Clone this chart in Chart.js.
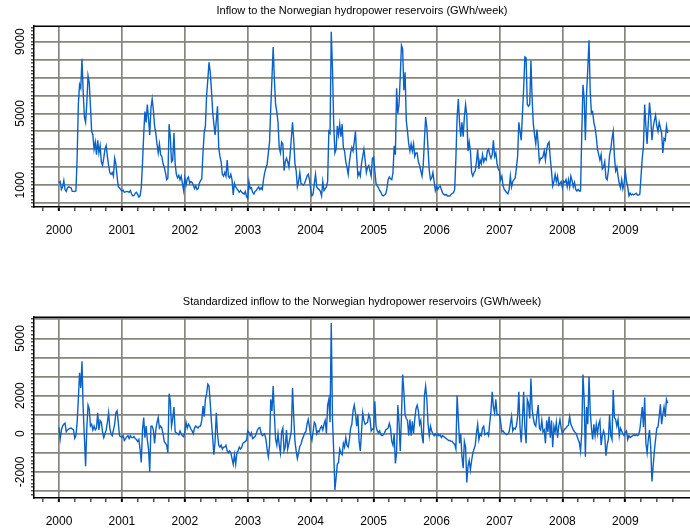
<!DOCTYPE html>
<html>
<head>
<meta charset="utf-8">
<script src="https://cdn.jsdelivr.net/npm/chart.js@4.4.0/dist/chart.umd.min.js"></script>
<style>
  html, body { margin: 0; padding: 0; background: #fff; overflow: hidden; }
  .panel { position: absolute; left: 0; width: 690px; height: 241px; }
</style>
</head>
<body>
<div class="panel" style="top:0"><canvas id="chart-inflow" width="690" height="241"></canvas></div>
<div class="panel" style="top:291px"><canvas id="chart-standardized" width="690" height="241"></canvas></div>
<script>
// ----- DATA ----- //
// weekly values, one array per year (2009 stops in September)
const years = [2000, 2001, 2002, 2003, 2004, 2005, 2006, 2007, 2008, 2009];
const weeksPerYear = 52;

// Inflow (GWh/week)
const inflow2000 = [1150,1200,760,900,1250,750,650,850,900,870,850,650,650,640,680,2500,5500,6600,6400,8050,6200,4800,4500,5600,7100,6700,5400,4000,3800,3000,3400,2700,3500,2800,3200,2300,2100,2500,3000,3200,2600,2100,1700,1600,1700,1500,2500,2200,1500,900,850,750];
const inflow2001 = [670,720,600,620,650,640,600,700,500,400,420,550,600,480,330,400,850,2200,3800,5100,4500,5500,4700,3800,5300,5800,5200,4300,3900,3300,2800,3300,2700,2600,2200,2000,1700,1300,1400,4400,3700,2300,2400,3900,2200,1600,1400,1550,1300,1500,1100,700];
const inflow2002 = [1400,1000,1350,1450,1100,1200,1150,1000,800,950,750,800,1100,1250,1350,2800,3900,4300,6000,6900,7850,7300,6300,5100,4400,3800,4600,5400,3100,2600,2300,1600,1500,1700,1500,2400,1500,1400,1600,1300,450,1100,900,800,700,600,700,600,550,500,650,350];
const inflow2003 = [250,1200,800,850,600,500,650,700,800,900,750,850,760,1300,1700,1960,2150,2800,3400,5300,6960,8700,6900,5500,5100,4500,3100,2800,3400,3300,1800,2300,2500,2300,2000,2700,3600,4500,3500,2200,1800,900,1200,1700,1100,1050,1000,1100,1300,1500,1600,1300];
const inflow2004 = [760,400,500,1100,1600,900,800,750,650,400,1200,700,800,900,1200,4000,3900,9550,7500,4500,2800,3000,4300,3800,4400,3700,4400,3100,2900,2300,2000,1600,2300,2800,3100,2900,3400,4000,2600,1500,1700,1500,2200,2600,3000,2400,1700,2000,2100,1800,1500,2500];
const inflow2005 = [2550,1780,1100,950,850,700,600,450,400,450,500,800,1300,1450,1350,1300,1700,3200,2700,6400,5000,5500,7000,8800,8600,6300,7300,4600,4000,3300,2900,3300,2900,3300,2600,2800,2800,2300,2100,1800,1500,2100,3500,4800,4200,3000,1800,1300,1400,1700,1200,700];
const inflow2006 = [950,760,890,950,760,570,480,440,480,390,390,390,480,540,570,760,2500,4800,5800,4500,3700,4500,3700,4800,5500,4900,2900,3400,2900,1700,1500,1700,1800,2300,3000,1900,2400,2200,2700,2300,2500,2400,2900,3000,2700,2500,2700,3500,2600,2800,2200,1900];
const inflow2007 = [1780,1300,1500,950,760,670,575,520,760,1500,900,1200,1300,1400,1950,2600,4500,4000,3500,5000,6400,8150,8100,5500,5400,5500,7950,5800,4400,3800,3300,4100,3300,2300,2500,2500,2600,2900,2400,3000,3300,3400,2500,1780,950,1200,1600,1200,1500,1000,1100,1200];
const inflow2008 = [850,1220,1150,1300,900,1300,900,1500,1250,900,1150,760,670,760,670,670,3800,6600,5850,3500,6100,7500,9080,6200,5000,5100,4500,4200,3700,3000,2700,2400,2700,1900,2000,2300,1400,1300,1800,2700,3000,3600,4000,2600,1800,2000,1500,1100,850,1300,800,1100];
const inflow2009 = [1780,1200,900,400,550,450,500,450,500,550,450,450,500,1500,2500,3200,5500,4300,3300,4500,5600,4800,3500,4200,4600,4900,4300,4000,4500,4200,3900,2800,3600,3500,4300,3900];

// Standardized inflow (GWh/week)
const std2000 = [330,-280,200,400,500,560,100,200,250,280,300,250,200,-240,-100,600,1800,3200,2400,3800,1300,-200,-1700,300,1500,1300,400,500,200,400,200,300,1100,200,700,600,100,-200,0,200,600,1100,300,0,-100,200,500,1100,1200,600,-100,-150];
const std2001 = [-190,-100,-350,-250,-150,-100,-250,-100,-200,-200,-150,-250,-300,-400,-300,-800,-1500,200,850,-200,400,-300,-800,-2000,400,400,200,-500,200,600,850,300,400,300,0,-400,-500,-600,-1000,2100,1700,400,800,1400,100,50,0,-50,150,0,-100,-150];
const std2002 = [100,600,300,500,400,250,150,0,300,400,350,300,400,400,700,1450,900,1800,2100,2600,2500,1600,600,-200,-1100,-400,1100,0,-600,-700,-600,-800,-700,-700,-600,-900,-1000,-900,-1000,-1300,-1600,-1100,-1600,-1000,-900,-700,-800,-700,-500,-450,-400,-350];
const std2003 = [150,70,-100,50,-250,-200,-150,0,200,300,330,50,-100,-50,0,-300,-800,-1200,-600,1800,1200,2500,1000,-300,-600,0,-600,-1000,100,300,-900,-700,200,-800,-500,-200,150,2400,900,-400,-900,-1300,-1000,-650,-550,-300,-150,50,100,500,750,350];
const std2004 = [-100,-350,100,600,500,0,150,100,300,400,200,500,700,0,1500,1800,600,5800,800,-900,-2950,-2300,-1600,-1500,-800,-1000,-1100,-500,-700,-200,-600,-700,-300,300,500,1200,1500,1100,400,1000,-400,-900,100,1100,700,500,550,600,1000,800,150,250];
const std2005 = [240,1700,400,150,50,150,-50,-100,-50,50,200,250,300,550,300,-400,-600,0,-1550,-1000,1500,600,-900,900,3100,2200,1000,800,700,-100,750,-100,650,0,750,1300,1500,1200,500,700,-100,-500,2000,2500,1800,500,-100,400,150,0,-100,0];
const std2006 = [-100,0,-100,-50,-200,-100,-150,-200,-250,-300,-350,-350,-400,-400,-500,-550,-800,2000,800,-500,0,-1200,-1800,-400,-700,-2550,-1700,-1400,-1900,-1400,-1000,-800,-600,50,500,-300,0,-100,300,400,-50,0,50,-100,600,1200,2200,1400,1100,1800,1000,1000];
const std2007 = [1000,600,100,150,50,0,-50,0,100,500,900,150,300,250,400,900,2200,300,-450,800,2200,300,-500,1800,1600,800,2900,1300,800,500,400,1000,1500,300,200,700,100,200,-500,700,100,900,-200,700,-700,400,100,600,-200,400,750,300];
const std2008 = [0,150,250,300,400,450,900,500,350,200,100,50,-100,-300,-450,-900,50,3100,1800,-1200,1400,500,3000,1200,300,-300,500,-100,500,0,500,700,-600,-100,150,-100,-1150,-600,-300,1000,-100,-300,2300,850,750,400,750,-100,300,150,0,-100];
const std2009 = [70,150,-300,-100,-200,-150,-100,-50,-100,-50,-100,-50,200,800,1400,350,1900,-500,-1000,-300,200,-700,-2500,-1700,-900,-300,300,350,900,1550,500,1000,1400,900,1800,1600];

const inflowByYear = [inflow2000, inflow2001, inflow2002, inflow2003, inflow2004, inflow2005, inflow2006, inflow2007, inflow2008, inflow2009];
const stdByYear = [std2000, std2001, std2002, std2003, std2004, std2005, std2006, std2007, std2008, std2009];

// Tick labels
const yearLabels = [2000, 2001, 2002, 2003, 2004, 2005, 2006, 2007, 2008, 2009];
const inflowLabels = [1000, 5000, 9000];
const stdLabels = [-2000, 0, 2000, 5000];


// ----- HELPERS ----- //
const GRID = '#86867f';
const NONE = 'rgba(0,0,0,0)';
const LINE = '#0a62c8';

Chart.defaults.font.family = '"Liberation Sans", Arial, sans-serif';
Chart.defaults.color = '#000';

function toPoints(series) {
  const points = [];
  years.forEach((year, i) => {
    series[i].forEach((v, w) => points.push({x: year + w / weeksPerYear, y: v}));
  });
  return points;
}

function isYear(v) {
  return Math.abs(v - Math.round(v)) < 1e-6;
}

// rotated y labels + top frame line
const framePlugin = {
  id: 'frame',
  afterDraw(chart, args, opts) {
    const ctx = chart.ctx;
    const scale = chart.scales.y;
    const area = chart.chartArea;
    ctx.save();
    ctx.font = '12px "Liberation Sans", Arial, sans-serif';
    ctx.fillStyle = '#000';
    ctx.textAlign = 'center';
    ctx.textBaseline = 'middle';
    for (const v of opts.labels) {
      ctx.save();
      ctx.translate(20.5, scale.getPixelForValue(v));
      ctx.rotate(-Math.PI / 2);
      ctx.fillText(String(v), 0, 0);
      ctx.restore();
    }
    ctx.strokeStyle = '#000';
    ctx.lineWidth = 1.5;
    ctx.beginPath();
    ctx.moveTo(area.left, area.top);
    ctx.lineTo(area.right, area.top);
    ctx.stroke();
    ctx.restore();
  }
};


// ----- CREATE CHARTS ----- //
function makeChart(id, title, series, yMin, yMax, yLabels) {
  new Chart(document.getElementById(id).getContext('2d'), {
    type: 'line',
    data: {
      datasets: [
        {
          data: toPoints(series),
          borderColor: LINE,
          borderWidth: 1.4,
          pointRadius: 0,
          tension: 0,
        }
      ]
    },
    options: {
      responsive: false,
      animation: false,
      events: [],
      layout: { padding: 0 },
      plugins: {
        legend: { display: false },
        tooltip: { enabled: false },
        title: {
          display: true,
          text: title,
          fullSize: false,
          color: '#000',
          font: { size: 11, weight: 'normal' },
          padding: { top: 4, bottom: 9 },
        },
        frame: { labels: yLabels },
      },
      scales: {
        x: {
          type: 'linear',
          min: 1999.603,
          max: 2010.028,
          afterBuildTicks: s => { s.ticks = s.ticks.filter(t => t.value < 2009.9); },
          afterFit: s => { s.height = 34; },
          border: { color: '#000', width: 1.5 },
          grid: {
            color: c => isYear(c.tick.value) ? GRID : NONE,
            lineWidth: 1.7,
            tickLength: 4,
            tickColor: '#000',
            tickWidth: c => isYear(c.tick.value) ? 2 : 1,
          },
          ticks: {
            stepSize: 0.25,
            includeBounds: false,
            autoSkip: false,
            maxRotation: 0,
            minRotation: 0,
            padding: 12,
            font: { size: 12 },
            callback: v => isYear(v) && yearLabels.includes(Math.round(v)) ? String(Math.round(v)) : '',
          },
        },
        y: {
          type: 'linear',
          min: yMin,
          max: yMax,
          afterFit: s => { s.width = 34; },
          border: { color: '#000', width: 1.5 },
          grid: {
            color: c => c.tick.value % 1000 === 0 ? GRID : NONE,
            lineWidth: 1.7,
            tickLength: 3,
            tickColor: '#000',
            tickWidth: 1,
          },
          ticks: { display: false, stepSize: 200, includeBounds: false },
        },
      },
    },
    plugins: [framePlugin],
  });
}

makeChart('chart-inflow', 'Inflow to the Norwegian hydropower reservoirs (GWh/week)', inflowByYear, -222, 9866, inflowLabels);
makeChart('chart-standardized', 'Standardized inflow to the Norwegian hydropower reservoirs (GWh/week)', stdByYear, -3366, 6110, stdLabels);
</script>
</body>
</html>
